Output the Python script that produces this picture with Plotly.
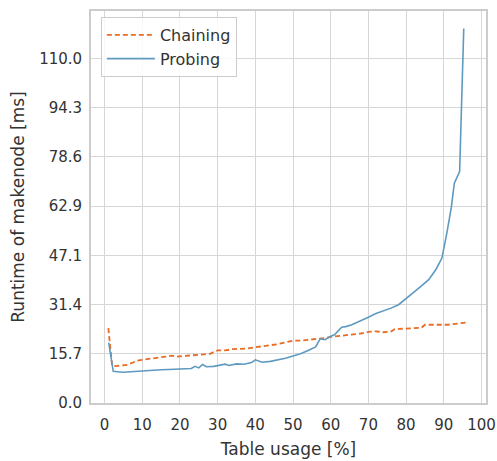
import plotly.graph_objects as go

chain_x = [1, 2, 3, 4, 5, 6, 7, 8, 9, 10, 12, 14, 16, 18, 19, 20, 22, 24, 26, 28, 29, 30, 32, 34, 36, 38, 40, 42, 44, 46, 48, 50, 52, 54, 56, 58, 60, 62, 64, 66, 68, 70, 72, 74, 76, 77, 80, 82, 84, 85, 87, 89, 91, 93, 94, 96]
chain_y = [23.9, 11.9, 11.8, 11.9, 11.9, 12.2, 12.7, 13.2, 13.6, 13.8, 14.1, 14.4, 14.7, 15.1, 14.8, 14.9, 15.1, 15.4, 15.5, 15.7, 16.3, 16.8, 16.8, 17.2, 17.3, 17.4, 17.8, 18.1, 18.5, 18.8, 19.4, 19.9, 19.9, 20.1, 20.4, 20.7, 21.1, 21.4, 21.5, 21.9, 22.2, 22.7, 22.9, 22.6, 22.8, 23.6, 23.8, 24.0, 24.0, 25.0, 25.1, 25.0, 25.0, 25.2, 25.5, 25.7]

probe_x = [1.1, 2.3, 4, 5, 7, 9, 11, 13, 15, 17, 19, 21, 23, 24, 25, 26, 27, 29, 31, 32, 33, 35, 37, 39, 40, 41.8, 44, 46, 48, 50, 52, 54, 56, 57.2, 58.5, 60, 61, 62.9, 64, 65.6, 68, 70, 72, 74, 76, 78, 80, 82, 84, 86, 88, 89.5, 90.8, 92, 92.8, 94.2, 95.3]
probe_y = [19.3, 10.1, 9.9, 9.8, 10.0, 10.2, 10.3, 10.5, 10.6, 10.7, 10.8, 10.9, 11.0, 11.7, 11.2, 12.3, 11.6, 11.7, 12.3, 12.4, 12.0, 12.5, 12.4, 12.9, 13.8, 13.0, 13.3, 13.7, 14.3, 15.0, 15.7, 16.8, 17.9, 20.5, 20.2, 21.3, 21.8, 24.2, 24.4, 25.0, 26.2, 27.4, 28.6, 29.4, 30.3, 31.4, 33.5, 35.3, 37.3, 39.4, 42.8, 46.3, 54.2, 62.5, 70.2, 73.9, 119.6]

x_ticks = [0, 10, 20, 30, 40, 50, 60, 70, 80, 90, 100]
y_ticks = [0.0, 15.7, 31.4, 47.1, 62.9, 78.6, 94.3, 110.0]

FONT = "DejaVu Sans"
TXT = "#333333"

fig = go.Figure()
fig.add_trace(go.Scatter(x=chain_x, y=chain_y, mode="lines", name="Chaining",
                         line=dict(color="#EA6B24", width=1.8, dash="5px,3px")))
fig.add_trace(go.Scatter(x=probe_x, y=probe_y, mode="lines", name="Probing",
                         line=dict(color="#5E9AC0", width=1.6)))

axis_common = dict(showgrid=True, gridcolor="#d6d6d6", gridwidth=1.3,
                   showline=True, linecolor="#cccccc", linewidth=1.8, mirror=True,
                   zeroline=False, automargin=False,
                   tickfont=dict(family=FONT, size=15, color=TXT))

fig.update_layout(
    width=497, height=461,
    margin=dict(l=91, r=11, t=11, b=58),
    paper_bgcolor="white", plot_bgcolor="white",
    font=dict(family=FONT, color=TXT),
    xaxis=dict(range=[-3.6, 101.2], tickvals=x_ticks, ticktext=[str(v) for v in x_ticks],
               ticks="outside", ticklen=7, tickcolor="rgba(0,0,0,0)",
               title=dict(text="Table usage [%]", font=dict(family=FONT, size=17, color=TXT), standoff=10),
               **axis_common),
    yaxis=dict(range=[0, 125.2], tickvals=y_ticks, ticktext=[f"{v:.1f}" for v in y_ticks],
               ticks="outside", ticklen=4, tickcolor="rgba(0,0,0,0)",
               title=dict(text="Runtime of makenode [ms]", font=dict(family=FONT, size=17, color=TXT), standoff=10),
               **axis_common),
    legend=dict(x=0.025, y=0.985, xanchor="left", yanchor="top", itemwidth=48,
                bgcolor="rgba(255,255,255,0.85)", bordercolor="#cccccc", borderwidth=1,
                font=dict(family=FONT, size=16, color=TXT), tracegroupgap=2),
)

fig.write_html("out.html")
